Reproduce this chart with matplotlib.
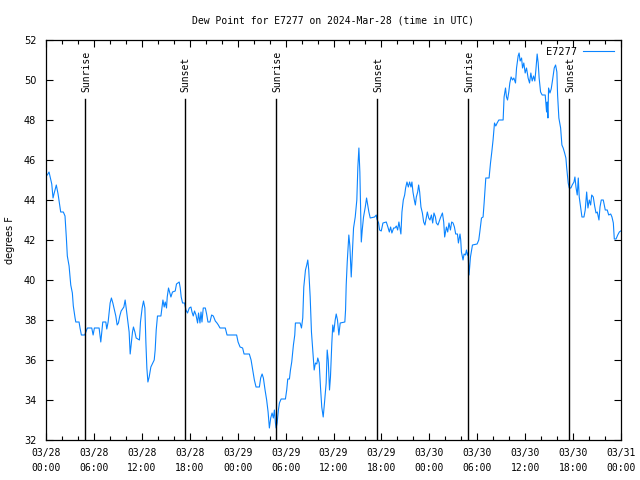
import matplotlib
matplotlib.use("Agg")
import matplotlib.pyplot as plt
from matplotlib.ticker import MultipleLocator

# hours since 2024-03-28 00:00 UTC
hours = [0.16, 0.38, 0.72, 0.88, 1.00, 1.29, 1.51, 1.72, 1.84, 2.17, 2.38, 2.55, 2.67, 2.89, 3.10, 3.30, 3.42, 3.64, 3.73, 4.14,
         4.26, 4.43, 4.85, 5.18, 5.73, 5.90, 6.06, 6.65, 6.86, 6.99, 7.11, 7.49, 7.61, 7.78, 7.90, 8.03, 8.19, 8.37, 8.57, 8.74,
         8.91, 9.07, 9.24, 9.41, 9.75, 9.91, 10.04, 10.25, 10.41, 10.54, 10.66, 10.83, 10.95, 11.13, 11.29, 11.70, 11.83, 12.04, 12.21, 12.38,
         12.51, 12.63, 12.76, 12.92, 13.13, 13.55, 13.67, 13.80, 13.96, 14.39, 14.51, 14.64, 14.80, 14.93, 15.09, 15.18, 15.34, 15.64, 15.84, 16.18,
         16.34, 16.68, 16.81, 16.93, 17.10, 17.35, 17.52, 17.72, 17.94, 18.15, 18.28, 18.44, 18.60, 18.78, 18.98, 19.10,
         19.28, 19.41, 19.53, 19.69, 19.95, 20.11, 20.28, 20.53, 20.74, 20.95, 21.20, 21.41, 21.58, 21.79, 22.45, 22.67, 23.87, 24.05, 24.30, 24.62,
         24.80, 25.46, 25.68, 25.88, 26.09, 26.30, 26.72, 26.88, 27.06, 27.22, 27.43, 27.63, 27.81, 27.97, 28.14, 28.31, 28.47, 28.60, 28.73, 28.81,
         28.94, 29.10, 29.23, 29.44, 29.98, 30.14, 30.27, 30.48, 30.61, 30.77, 30.98, 31.15, 31.23, 31.82, 31.99, 32.15, 32.28, 32.49, 32.65, 32.78,
         32.90, 33.08, 33.24, 33.40, 33.58, 33.74, 33.91, 34.03, 34.21, 34.37, 34.53, 34.71, 34.87, 35.08, 35.21, 35.34, 35.50, 35.62, 35.79, 35.91,
         36.04, 36.21, 36.34, 36.50, 36.67, 36.84, 37.42, 37.51, 37.59, 37.72, 37.92, 38.05, 38.22, 38.35, 38.51, 38.72, 38.92, 39.05, 39.18, 39.30,
         39.48, 39.60, 39.76, 39.98, 40.14, 40.27, 40.43, 40.60, 41.14, 41.36, 41.43, 41.65, 41.77, 41.98, 42.19, 42.61, 42.81, 42.99, 43.15, 43.31,
         43.53, 43.69, 43.87, 44.03, 44.19, 44.44, 44.57, 44.74, 44.91, 45.03, 45.20, 45.37, 45.53, 45.70, 45.82, 45.95, 46.12, 46.25, 46.37, 46.54,
         46.66, 46.79, 46.95, 47.13, 47.29, 47.45, 47.63, 47.75, 47.92, 48.08, 48.26, 48.42, 48.58, 48.76, 48.88, 49.08, 49.21, 49.38, 49.64, 49.80,
         49.92, 50.14, 50.30, 50.46, 50.64, 50.80, 50.97, 51.14, 51.30, 51.52, 51.64, 51.77, 51.84, 51.93, 52.02, 52.22, 52.35, 52.52, 52.65, 52.77,
         52.85, 52.97, 53.15, 53.40, 53.98, 54.19, 54.32, 54.53, 54.73, 54.86, 55.07, 55.48, 55.66, 55.82, 55.98, 56.16, 56.32, 56.49, 56.70, 57.24,
         57.36, 57.54, 57.66, 57.79, 57.95, 58.08, 58.24, 58.42, 58.58, 58.79, 58.92, 59.12, 59.24, 59.37, 59.55, 59.67, 59.83, 60.00, 60.17, 60.37,
         60.55, 60.71, 60.88, 61.05, 61.21, 61.34, 61.50, 61.63, 61.75, 61.93, 62.13, 62.51, 62.68, 62.76, 62.85, 62.93, 63.10, 63.26, 63.43, 63.64,
         63.81, 63.97, 64.06, 64.22, 64.44, 64.60, 64.76, 64.94, 65.10, 65.19, 65.39, 65.52, 65.73, 65.89, 66.11, 66.23, 66.36, 66.52, 66.65, 66.77,
         66.95, 67.11, 67.36, 67.52, 67.70, 67.86, 68.03, 68.20, 68.33, 68.53, 68.70, 68.87, 69.03, 69.24, 69.37, 69.53, 69.78, 70.03, 70.28, 70.46,
         70.71, 70.87, 71.04, 71.16, 71.38, 71.59, 71.79, 71.96]

dewpoint = [45.25, 45.4, 44.8, 44.1, 44.3, 44.75, 44.3, 43.75, 43.4, 43.4, 43.2, 42.1, 41.2, 40.7, 39.75, 39.35, 38.7, 38.1, 37.9, 37.9,
            37.6, 37.25, 37.25, 37.6, 37.6, 37.25, 37.6, 37.6, 36.9, 37.4, 37.9, 37.9, 37.55, 37.9, 38.35, 38.85, 39.1, 38.85, 38.5, 38.2,
            37.75, 37.85, 38.2, 38.45, 38.65, 39.0, 38.6, 37.9, 37.4, 36.3, 36.75, 37.4, 37.65, 37.4, 37.1, 37.0, 37.9, 38.6, 38.95, 38.6,
            36.85, 35.6, 34.9, 35.15, 35.65, 36.0, 36.5, 37.5, 38.2, 38.2, 38.6, 39.0, 38.65, 38.9, 38.6, 39.15, 39.6, 39.15, 39.4, 39.45,
            39.8, 39.9, 39.6, 39.15, 38.85, 38.85, 38.5, 38.35, 38.6, 38.65, 38.4, 38.2, 38.45, 38.25, 37.85, 38.35,
            37.85, 38.4, 37.9, 38.6, 38.6, 38.3, 37.9, 37.9, 38.25, 38.2, 37.95, 37.85, 37.75, 37.6, 37.6, 37.25, 37.25, 36.9, 36.65, 36.6,
            36.3, 36.3, 36.0, 35.5, 35.0, 34.65, 34.65, 35.1, 35.3, 35.1, 34.5, 34.0, 33.4, 32.6, 33.1, 33.35, 33.1, 33.5, 32.85, 32.6,
            32.85, 33.5, 33.85, 34.05, 34.05, 34.5, 35.05, 35.05, 35.5, 35.9, 36.75, 37.25, 37.85, 37.85, 37.6, 38.1, 39.65, 40.5, 40.75, 41.0,
            40.5, 39.15, 37.4, 36.5, 35.5, 35.85, 35.8, 36.1, 35.85, 34.65, 33.65, 33.15, 33.85, 34.85, 36.5, 36.0, 34.5, 35.15, 36.85, 37.75,
            37.4, 38.0, 38.3, 38.0, 37.25, 37.85, 37.9, 38.5, 39.75, 40.9, 42.25, 41.7, 40.15, 41.2, 42.6, 43.15, 44.0, 45.65, 46.6, 45.4,
            41.9, 42.5, 43.15, 43.65, 44.1, 43.8, 43.4, 43.1, 43.15, 43.25, 43.05, 42.85, 42.5, 42.45, 42.85, 42.9, 42.65, 42.4, 42.65, 42.35,
            42.6, 42.6, 42.7, 42.5, 42.9, 42.3, 43.4, 44.0, 44.25, 44.6, 44.9, 44.65, 44.9, 44.65, 44.9, 44.4, 44.0, 43.75, 44.15, 44.4,
            44.75, 44.4, 43.65, 43.35, 42.9, 42.75, 43.15, 43.4, 43.1, 43.0, 43.25, 42.85, 43.35, 43.15, 42.85, 42.75, 42.9, 43.1, 43.35, 42.9,
            42.15, 42.65, 42.4, 42.85, 42.5, 42.9, 42.85, 42.65, 42.3, 42.3, 41.85, 42.15, 42.3, 42.0, 41.4, 41.0, 41.3, 41.25, 41.5, 41.25,
            41.35, 40.25, 41.15, 41.75, 41.8, 42.0, 42.4, 43.1, 43.15, 43.85, 45.1, 45.1, 45.85, 46.4, 47.0, 47.85, 47.7, 47.85, 48.0, 48.0,
            49.15, 49.6, 49.15, 49.0, 49.4, 49.85, 50.15, 50.0, 50.1, 49.85, 50.6, 51.2, 51.35, 50.95, 51.1, 50.6, 50.85, 50.35, 50.6, 50.1,
            49.85, 50.35, 49.95, 50.2, 49.95, 50.5, 51.3, 50.85, 50.1, 49.4, 49.25, 49.25, 48.4, 48.9, 48.1, 49.6, 49.35, 49.55, 50.0, 50.6,
            50.75, 50.4, 49.25, 48.1, 47.6, 46.75, 46.6, 46.35, 46.1, 45.65, 44.85, 44.6, 44.6, 44.75, 44.9, 45.15, 44.65, 44.25, 45.1, 44.15,
            43.6, 43.15, 43.15, 43.5, 44.4, 43.6, 44.0, 43.75, 44.25, 44.15, 43.7, 43.35, 43.4, 43.0, 43.65, 44.0, 44.0, 43.5, 43.5, 43.25,
            43.3, 43.15, 42.85, 42.05, 42.05, 42.25, 42.4, 42.45]

sun_hours = [4.85, 17.35, 28.81, 41.43, 52.85, 65.52]
sun_labels = ["Sunrise", "Sunset", "Sunrise", "Sunset", "Sunrise", "Sunset"]

tick_hours = [0, 6, 12, 18, 24, 30, 36, 42, 48, 54, 60, 66, 72]
tick_labels = ["03/28\n00:00", "03/28\n06:00", "03/28\n12:00", "03/28\n18:00",
               "03/29\n00:00", "03/29\n06:00", "03/29\n12:00", "03/29\n18:00",
               "03/30\n00:00", "03/30\n06:00", "03/30\n12:00", "03/30\n18:00",
               "03/31\n00:00"]
y_ticks = [32, 34, 36, 38, 40, 42, 44, 46, 48, 50, 52]

mono = "DejaVu Sans Mono"

fig = plt.figure(figsize=(6.4, 4.8), dpi=100)
ax = fig.add_axes([46/640, 40/480, 575/640, 400/480])

ax.plot(hours, dewpoint, color="#0a84ff", linewidth=0.8, label="E7277")

for h, lab in zip(sun_hours, sun_labels):
    ax.plot([h, h], [32, 49.05], color="black", linewidth=1.0)
    ax.text(h + 0.15, 49.4, lab, rotation=90, ha="center", va="bottom",
            fontsize=7, family=mono)

ax.set_xlim(0, 72)
ax.set_ylim(32, 52)
ax.set_xticks(tick_hours)
ax.set_xticklabels(tick_labels, family=mono, fontsize=7, linespacing=1.6)
ax.xaxis.set_minor_locator(MultipleLocator(2))
ax.set_yticks(y_ticks)
ax.set_yticklabels([str(v) for v in y_ticks], fontsize=7)
ax.tick_params(axis="both", which="both", direction="in", top=True, right=True)
ax.tick_params(axis="both", which="major", length=5, width=0.8)
ax.tick_params(axis="both", which="minor", length=3, width=0.8)
ax.tick_params(axis="y", pad=7)
ax.tick_params(axis="x", pad=6)
for s in ax.spines.values():
    s.set_linewidth(0.9)

ax.set_ylabel("degrees F", fontsize=7)
ax.yaxis.set_label_coords(-31/575, 0.5)
ax.set_title("Dew Point for E7277 on 2024-Mar-28 (time in UTC)", family=mono,
             fontsize=7, pad=12)

leg = ax.legend(loc="upper right", frameon=False, fontsize=7, handlelength=3.2,
                markerfirst=False, borderaxespad=0.3, handletextpad=0.6)

fig.savefig("out.png", dpi=100)
